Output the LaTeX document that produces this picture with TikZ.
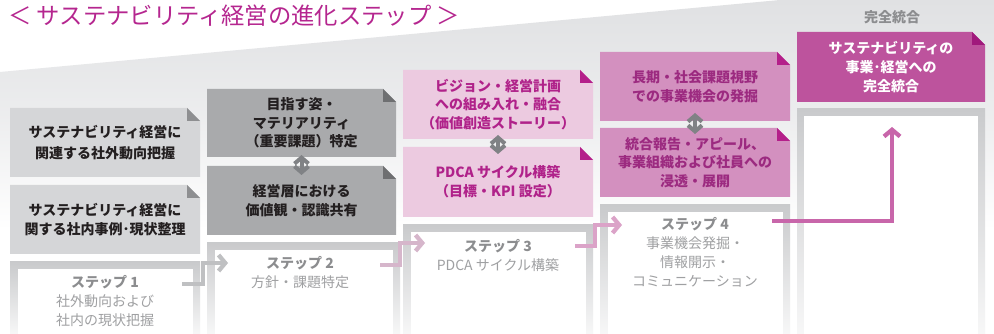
\documentclass[tikz,border=0pt]{standalone}
\usepackage{fontspec}
\setmainfont{Noto Sans CJK JP}
\usetikzlibrary{arrows.meta,calc}
\pgfdeclarelayer{back}
\pgfdeclarelayer{mid}
\pgfsetlayers{back,mid,main}
\definecolor{titlemag}{HTML}{B5268F}
\definecolor{bggray}{HTML}{E0E1E3}
\definecolor{framegray}{HTML}{C9CACC}
\definecolor{fillA}{HTML}{D5D6D8}
\definecolor{earA}{HTML}{8E8F91}
\definecolor{fillB}{HTML}{A9AAAC}
\definecolor{earB}{HTML}{6E6F71}
\definecolor{fillC}{HTML}{ECCAE0}
\definecolor{earC}{HTML}{B41F8A}
\definecolor{textC}{HTML}{B0228A}
\definecolor{fillD}{HTML}{D390BF}
\definecolor{earD}{HTML}{B41F8A}
\definecolor{textD}{HTML}{9C2A80}
\definecolor{fillE}{HTML}{BD539D}
\definecolor{earE}{HTML}{A0197C}
\definecolor{darktext}{HTML}{231F20}
\definecolor{steptitle}{HTML}{8C8D8F}
\definecolor{stepsub}{HTML}{9FA0A2}
\definecolor{dblarrow}{HTML}{808285}
\definecolor{arrA}{HTML}{BFC0C2}
\definecolor{arrB}{HTML}{D6B6CB}
\definecolor{arrC}{HTML}{DBA3C8}
\definecolor{arrD}{HTML}{C866AA}
\tikzset{
  cardtext/.style={align=center, font=\fontsize{10.5}{14}\selectfont\bfseries, inner sep=0pt},
  steptext/.style={align=center, font=\fontsize{10.5}{14.2}\selectfont, text=stepsub, inner sep=0pt},
  dbl/.style={draw=dblarrow, line width=3pt, {Straight Barb[length=4.5pt,width=10.5pt]}-{Straight Barb[length=4.5pt,width=10.5pt]}},
  flow/.style={line width=3.2pt, -{Straight Barb[length=5pt,width=12pt]}}
}
\newcommand\cardbox[9]{%
  \begin{pgfonlayer}{mid}
    \fill[#6] (#2,#3) -- (#4-13,#3) -- (#4,#3+13) -- (#4,#5) -- (#2,#5) -- cycle;
    \fill[#7] (#4-13,#3) -- (#4-13,#3+13) -- (#4,#3+13) -- cycle;
  \end{pgfonlayer}
  \node[cardtext, text=#8] (#1) at ({(#2+#4)/2},{(#3+#5)/2}) {#9};
}
\newcommand\stepframe[6]{%
  \begin{pgfonlayer}{mid}
    \shade[top color=framegray, bottom color=framegray!15] (#2,#3) rectangle (#4,334);
    \fill[white] (#2+#6,#3+#6) rectangle (#4-#6,334);
  \end{pgfonlayer}
  \coordinate (#1) at ({(#2+#4)/2},#3);
}
\begin{document}
\begin{tikzpicture}[x=0.75pt,y=-0.75pt]
\useasboundingbox (0,0) rectangle (994,334);
\begin{pgfonlayer}{back}
  \fill[white] (0,0) rectangle (994,334);
  \shade[top color=bggray, bottom color=white, middle color=bggray!60]
    (0,72) -- (780,0) -- (994,0) -- (994,230) -- (0,230) -- cycle;
\end{pgfonlayer}

% title
\node[anchor=west, text=titlemag, font=\fontsize{17.5}{19}\selectfont, inner sep=0pt] (title) at (8,16) {＜ サステナビリティ経営の進化ステップ ＞};

% frames
\stepframe{f1}{10}{262}{200}{}{7.5}
\stepframe{f2}{207}{243}{400}{}{7.5}
\stepframe{f3}{403}{225}{593}{}{7.5}
\stepframe{f4}{600}{205}{790}{}{7.5}
\stepframe{f5}{797}{109}{985}{}{7}

% step 1
\cardbox{a1}{10}{108}{200}{177}{fillA}{earA}{darktext}{サステナビリティ経営に\\[1.3pt]関連する社外動向把握}
\cardbox{a2}{10}{185}{200}{254}{fillA}{earA}{darktext}{サステナビリティ経営に\\関する社内事例･現状整理}
% step 2
\cardbox{b1}{207}{89}{396}{157}{fillB}{earB}{darktext}{目指す姿・\\マテリアリティ\\（重要課題）特定}
\cardbox{b2}{207}{166}{396}{235}{fillB}{earB}{darktext}{経営層における\\価値観・認識共有}
% step 3
\cardbox{c1}{403}{70}{593}{139}{fillC}{earC}{textC}{ビジョン・経営計画\\への組み入れ・融合\\（価値創造ストーリー）}
\cardbox{c2}{403}{147}{593}{217}{fillC}{earC}{textC}{PDCA サイクル構築\\（目標・KPI 設定）}
% step 4
\cardbox{d1}{600}{52}{790}{121}{fillD}{earD}{textD}{長期・社会課題視野\\での事業機会の発掘}
\cardbox{d2}{600}{128}{790}{197}{fillD}{earD}{textD}{統合報告・アピール、\\事業組織および社員への\\浸透・展開}
% step 5
\node[font=\fontsize{10.5}{12}\selectfont\bfseries, text=steptitle, inner sep=0pt] (top5) at (892,17) {完全統合};
\cardbox{e1}{797}{32}{985}{102}{fillE}{earE}{white}{サステナビリティの\\事業･経営への\\完全統合}

% double arrows
\draw[dbl] (b1.south |- 0,155) coordinate (b1s) -- (b1s |- 0,175);
\draw[dbl] (c1.south |- 0,135) coordinate (c1s) -- (c1s |- 0,154);
\draw[dbl] (d1.south |- 0,113) coordinate (d1s) -- (d1s |- 0,134);

% step texts
\node[steptext] (t1) at (105,301) {\textcolor{steptitle}{\bfseries ステップ 1}\\社外動向および\\社内の現状把握};
\node[steptext] (t2) at (300,272.5) {\textcolor{steptitle}{\bfseries ステップ 2}\\方針・課題特定};
\node[steptext] (t3) at (498,255.5) {\textcolor{steptitle}{\bfseries ステップ 3}\\PDCA サイクル構築};
\node[steptext] (t4) at (695,252) {\textcolor{steptitle}{\bfseries ステップ 4}\\事業機会発掘・\\情報開示・\\コミュニケーション};

% flow arrows
\coordinate (p1s) at (182,284);
\coordinate (p1e) at (228,263);
\coordinate (p2s) at (380,265);
\coordinate (p2e) at (425,243);
\coordinate (p3s) at (575,246);
\coordinate (p3e) at (622,225);
\coordinate (p4s) at (772,221);
\coordinate (p4e) at (892,127);
\draw[flow, draw=arrA] (p1s) -- (203,284) |- (p1e);
\draw[flow, draw=arrB] (p2s) -- (400,265) |- (p2e);
\draw[flow, draw=arrC] (p3s) -- (595,246) |- (p3e);
\draw[flow, draw=arrD] (p4s) -| (p4e);
\end{tikzpicture}
\end{document}
